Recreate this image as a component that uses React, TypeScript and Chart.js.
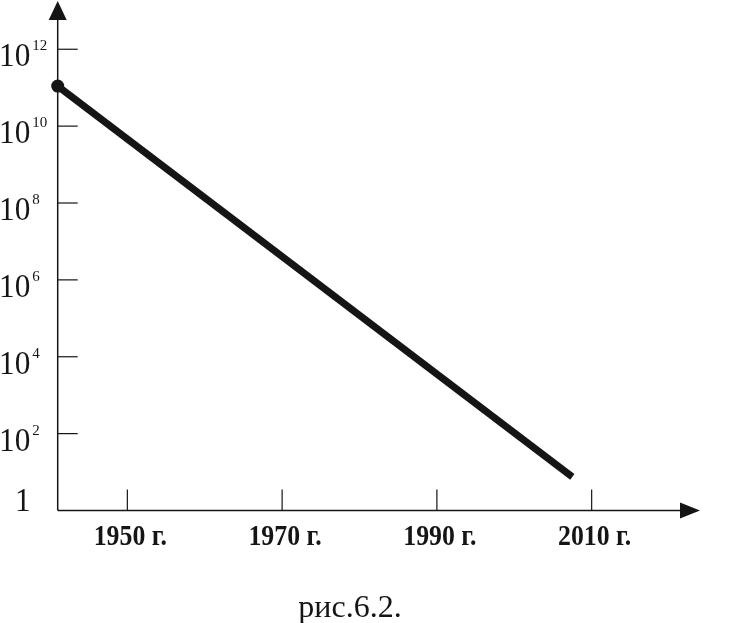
import { useEffect, useRef } from "react";
import { Chart, registerables } from "chart.js";

Chart.register(...registerables);

// ---- data ----
const YEARS = [1941, 2007.5];
const VALUES = [1.1e11, 7.5];
const X_TICKS = [1950, 1970, 1990, 2010];
const Y_EXPONENTS = [0, 2, 4, 6, 8, 10, 12];
const X_MIN = 1941;
const X_MAX = 2024;
const Y_MIN = 1;
const Y_MAX = 1.8e13;
const YEAR_SUFFIX = " г.";
const CAPTION = "рис.6.2.";

const INK = "#151515";
const FONT = "'Liberation Serif', 'Times New Roman', serif";

const axesPlugin = {
  id: "axesArrows",
  beforeDatasetsDraw(chart: any) {
    const { ctx, chartArea, scales } = chart;
    const xs = scales.x;
    const ys = scales.y;
    const ax = chartArea.left;
    const ay = chartArea.bottom;
    ctx.save();
    ctx.strokeStyle = INK;
    ctx.fillStyle = INK;
    ctx.lineWidth = 1.5;
    // y axis line + arrow
    ctx.beginPath();
    ctx.moveTo(ax, ay);
    ctx.lineTo(ax, chartArea.top + 12);
    ctx.stroke();
    ctx.beginPath();
    ctx.moveTo(ax, chartArea.top);
    ctx.lineTo(ax - 9, chartArea.top + 19);
    ctx.lineTo(ax + 9, chartArea.top + 19);
    ctx.closePath();
    ctx.fill();
    // x axis line + arrow
    ctx.beginPath();
    ctx.moveTo(ax, ay);
    ctx.lineTo(chartArea.right - 12, ay);
    ctx.stroke();
    ctx.beginPath();
    ctx.moveTo(chartArea.right, ay);
    ctx.lineTo(chartArea.right - 20, ay - 8);
    ctx.lineTo(chartArea.right - 20, ay + 8);
    ctx.closePath();
    ctx.fill();
    // tick marks
    ctx.lineWidth = 1.2;
    for (const e of Y_EXPONENTS) {
      if (e === 0) continue;
      const py = ys.getPixelForValue(Math.pow(10, e));
      ctx.beginPath();
      ctx.moveTo(ax, py);
      ctx.lineTo(ax + 20, py);
      ctx.stroke();
    }
    for (const t of X_TICKS) {
      const px = xs.getPixelForValue(t);
      ctx.beginPath();
      ctx.moveTo(px, ay);
      ctx.lineTo(px, ay - 21);
      ctx.stroke();
    }
    // x labels (bold, condensed serif)
    ctx.textAlign = "center";
    ctx.textBaseline = "alphabetic";
    ctx.font = `bold 30px ${FONT}`;
    for (const t of X_TICKS) {
      const px = xs.getPixelForValue(t);
      ctx.save();
      ctx.translate(px + 3, ay + 34.5);
      ctx.scale(0.86, 1);
      ctx.fillText(`${t}${YEAR_SUFFIX}`, 0, 0);
      ctx.restore();
    }
    // y labels: 10 with superscript exponent
    ctx.textAlign = "left";
    for (const e of Y_EXPONENTS) {
      const py = ys.getPixelForValue(Math.pow(10, e));
      ctx.font = `normal 34px ${FONT}`;
      if (e === 0) {
        ctx.save();
        ctx.translate(15, py);
        ctx.scale(0.92, 1);
        ctx.fillText("1", 0, 0);
        ctx.restore();
        continue;
      }
      const w = ctx.measureText("10").width * 0.92;
      ctx.save();
      ctx.translate(-1, py + 17);
      ctx.scale(0.92, 1);
      ctx.fillText("10", 0, 0);
      ctx.restore();
      ctx.font = `normal 15px ${FONT}`;
      ctx.fillText(String(e), -1 + w + 2, py + 1);
    }
    ctx.restore();
  },
};

export default function App() {
  const ref = useRef<HTMLCanvasElement | null>(null);

  useEffect(() => {
    if (!ref.current) return;
    const chart = new Chart(ref.current, {
      type: "line",
      data: {
        datasets: [
          {
            data: YEARS.map((x, i) => ({ x, y: VALUES[i] })),
            borderColor: INK,
            backgroundColor: INK,
            borderWidth: 7,
            borderCapStyle: "butt",
            pointRadius: [6.5, 0],
            pointHoverRadius: 0,
            pointBackgroundColor: INK,
            pointBorderWidth: 0,
            tension: 0,
            clip: false,
          } as any,
        ],
      },
      options: {
        animation: false,
        responsive: false,
        devicePixelRatio: 1,
        layout: { autoPadding: false, padding: { top: 1, right: 37, left: 0, bottom: 0 } },
        plugins: {
          legend: { display: false },
          tooltip: { enabled: false },
          title: {
            display: true,
            position: "bottom",
            text: CAPTION,
            color: INK,
            font: { family: FONT, size: 32, weight: "normal", lineHeight: 0.875 },
            padding: 0,
          },
        },
        scales: {
          x: {
            type: "linear",
            min: X_MIN,
            max: X_MAX,
            grid: { display: false },
            border: { display: false },
            ticks: { display: false },
            afterBuildTicks: (scale: any) => {
              scale.ticks = X_TICKS.map((v) => ({ value: v }));
            },
            afterFit: (scale: any) => {
              scale.height = 84.5;
            },
          },
          y: {
            type: "logarithmic",
            min: Y_MIN,
            max: Y_MAX,
            grid: { display: false },
            border: { display: false },
            ticks: { display: false },
            afterFit: (scale: any) => {
              scale.width = 57.7;
            },
          },
        },
      },
      plugins: [axesPlugin],
    });
    return () => chart.destroy();
  }, []);

  return (
    <div style={{ position: "absolute", left: 0, top: 0, width: 737, height: 623, background: "#fff" }}>
      <canvas ref={ref} width={737} height={623} />
    </div>
  );
}
